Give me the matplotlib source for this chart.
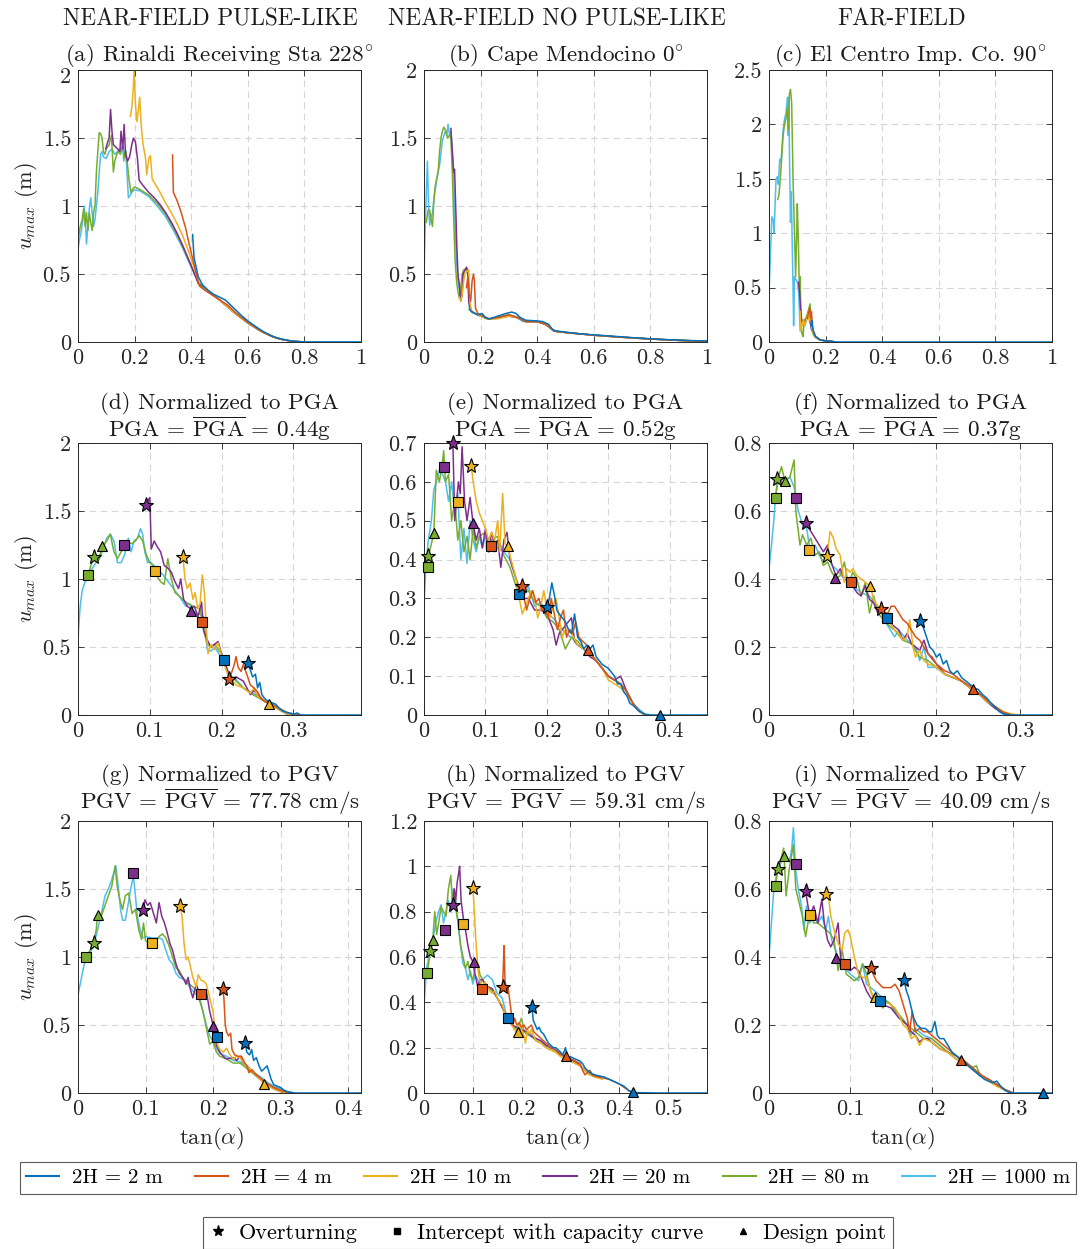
import matplotlib
matplotlib.use("Agg")
import matplotlib.pyplot as plt
import matplotlib.transforms as mtransforms
from matplotlib.lines import Line2D
from matplotlib.ticker import FuncFormatter

plt.rcParams["font.family"] = ["cmr10", "DejaVu Serif"]
plt.rcParams["mathtext.fontset"] = "cm"
plt.rcParams["axes.formatter.use_mathtext"] = True

COLORS = ["#0072BD", "#D95319", "#EDB120", "#7E2F8E", "#77AC30", "#4DBEEE"]
LABELS = ["2H = 2 m", "2H = 4 m", "2H = 10 m", "2H = 20 m", "2H = 80 m", "2H = 1000 m"]
HEADERS = ["NEAR-FIELD PULSE-LIKE", "NEAR-FIELD NO PULSE-LIKE", "FAR-FIELD"]

# ---- (a) Rinaldi, unscaled ----
a_2m = [(0.405, 0.79), (0.41, 0.62), (0.425, 0.48), (0.44, 0.42), (0.46, 0.38), (0.48, 0.35), (0.5, 0.33),
        (0.52, 0.31), (0.54, 0.27), (0.56, 0.23), (0.58, 0.19), (0.6, 0.155), (0.63, 0.11), (0.66, 0.07),
        (0.69, 0.04), (0.72, 0.02), (0.76, 0.006), (0.8, 0.0), (1.0, 0.0)]
a_4m = [(0.334, 1.375), (0.337, 1.1), (0.35, 1.04), (0.365, 0.95), (0.38, 0.84), (0.395, 0.7), (0.41, 0.57),
        (0.425, 0.44), (0.43, 0.41), (0.45, 0.38), (0.48, 0.34), (0.5, 0.31), (0.53, 0.27), (0.56, 0.21),
        (0.6, 0.145), (0.64, 0.09), (0.68, 0.045), (0.72, 0.018), (0.76, 0.004), (0.8, 0.0)]
a_10m = [(0.185, 1.66), (0.19, 1.72), (0.195, 1.85), (0.198, 2.0), (0.203, 1.75), (0.208, 1.62), (0.213, 1.7),
         (0.218, 1.8), (0.223, 1.6), (0.23, 1.45), (0.238, 1.36), (0.243, 1.23), (0.25, 1.35), (0.256, 1.37),
         (0.262, 1.2), (0.27, 1.17), (0.29, 1.1), (0.31, 1.02), (0.33, 0.95), (0.35, 0.87), (0.37, 0.78),
         (0.39, 0.67), (0.41, 0.55), (0.425, 0.45), (0.43, 0.41), (0.46, 0.37), (0.5, 0.31), (0.55, 0.22),
         (0.6, 0.14), (0.65, 0.075), (0.7, 0.03), (0.75, 0.007), (0.8, 0.0)]
a_20m = [(0.098, 1.42), (0.105, 1.47), (0.11, 1.5), (0.115, 1.71), (0.12, 1.55), (0.125, 1.45), (0.13, 1.44),
         (0.14, 1.42), (0.148, 1.4), (0.152, 1.55), (0.158, 1.42), (0.163, 1.6), (0.168, 1.38), (0.175, 1.33),
         (0.182, 1.36), (0.19, 1.45), (0.196, 1.5), (0.203, 1.47), (0.21, 1.35), (0.216, 1.19), (0.23, 1.15),
         (0.25, 1.1), (0.27, 1.06), (0.29, 1.01), (0.31, 0.95), (0.33, 0.88), (0.35, 0.8), (0.37, 0.71),
         (0.39, 0.61), (0.41, 0.51), (0.425, 0.43), (0.45, 0.38), (0.5, 0.31), (0.55, 0.22), (0.6, 0.14),
         (0.65, 0.075), (0.7, 0.03), (0.75, 0.007), (0.8, 0.0)]
a_80m = [(0.0, 0.75), (0.008, 0.85), (0.015, 0.9), (0.02, 0.98), (0.025, 0.85), (0.03, 0.95), (0.035, 0.82),
         (0.04, 0.95), (0.045, 0.88), (0.05, 0.82), (0.055, 0.95), (0.06, 1.0), (0.065, 1.25), (0.07, 1.4),
         (0.075, 1.54), (0.08, 1.53), (0.085, 1.5), (0.09, 1.4), (0.095, 1.38), (0.1, 1.42), (0.11, 1.45),
         (0.118, 1.52), (0.125, 1.25), (0.13, 1.33), (0.14, 1.4), (0.15, 1.38), (0.158, 1.45), (0.163, 1.35),
         (0.17, 1.4), (0.18, 1.2), (0.187, 1.1), (0.195, 1.13), (0.2, 1.14), (0.22, 1.12), (0.25, 1.08),
         (0.28, 1.02), (0.31, 0.94), (0.34, 0.83), (0.37, 0.7), (0.4, 0.56), (0.425, 0.44), (0.45, 0.39),
         (0.5, 0.31), (0.55, 0.22), (0.6, 0.14), (0.65, 0.075), (0.7, 0.03), (0.75, 0.007), (0.8, 0.0)]
a_1000m = [(0.0, 0.68), (0.005, 0.75), (0.012, 0.82), (0.018, 0.92), (0.022, 1.0), (0.026, 0.9), (0.03, 0.72),
           (0.035, 0.85), (0.04, 0.98), (0.045, 1.06), (0.05, 0.95), (0.055, 0.85), (0.06, 0.9), (0.065, 1.0),
           (0.07, 1.1), (0.075, 1.25), (0.08, 1.38), (0.085, 1.4), (0.09, 1.36), (0.1, 1.35), (0.11, 1.4),
           (0.12, 1.42), (0.13, 1.38), (0.14, 1.4), (0.15, 1.42), (0.158, 1.44), (0.162, 1.33), (0.167, 1.42),
           (0.172, 1.3), (0.178, 1.06), (0.185, 1.08), (0.19, 1.1), (0.2, 1.12), (0.22, 1.11), (0.25, 1.07),
           (0.28, 1.0), (0.31, 0.92), (0.34, 0.81), (0.37, 0.69), (0.4, 0.55), (0.425, 0.44), (0.45, 0.39),
           (0.5, 0.31), (0.55, 0.22), (0.6, 0.14), (0.65, 0.075), (0.7, 0.03), (0.75, 0.007), (0.8, 0.0),
           (1.0, 0.0)]

# ---- (b) Cape Mendocino, unscaled ----
b_2m = [(0.16, 0.24), (0.17, 0.22), (0.19, 0.2), (0.205, 0.21), (0.215, 0.18), (0.23, 0.17), (0.26, 0.19),
        (0.29, 0.21), (0.31, 0.22), (0.325, 0.21), (0.34, 0.18), (0.36, 0.16), (0.4, 0.155), (0.42, 0.15),
        (0.44, 0.13), (0.455, 0.09), (0.47, 0.08), (0.55, 0.06), (0.65, 0.045), (0.75, 0.03), (0.85, 0.018),
        (0.95, 0.01), (1.0, 0.008)]
b_4m = [(0.15, 0.4), (0.155, 0.48), (0.16, 0.35), (0.165, 0.3), (0.17, 0.45), (0.175, 0.5), (0.178, 0.45),
        (0.182, 0.25), (0.19, 0.21), (0.21, 0.19), (0.23, 0.17), (0.26, 0.18), (0.3, 0.2), (0.33, 0.18),
        (0.36, 0.15), (0.4, 0.15), (0.43, 0.13), (0.46, 0.08), (0.5, 0.07), (0.6, 0.05), (0.7, 0.035),
        (0.8, 0.022), (0.9, 0.012), (1.0, 0.005)]
b_10m = [(0.125, 0.33), (0.13, 0.3), (0.135, 0.35), (0.14, 0.45), (0.145, 0.5), (0.152, 0.52), (0.158, 0.53),
         (0.162, 0.3), (0.168, 0.22), (0.19, 0.2), (0.22, 0.17), (0.26, 0.17), (0.3, 0.19), (0.33, 0.18),
         (0.36, 0.15), (0.4, 0.15), (0.43, 0.13), (0.46, 0.08), (0.5, 0.07), (0.6, 0.05), (0.7, 0.035),
         (0.8, 0.022), (0.9, 0.012), (1.0, 0.005)]
b_20m = [(0.095, 1.57), (0.1, 1.4), (0.105, 1.25), (0.108, 1.27), (0.112, 1.0), (0.116, 0.7), (0.12, 0.5),
         (0.125, 0.42), (0.13, 0.3), (0.135, 0.35), (0.138, 0.5), (0.143, 0.52), (0.15, 0.55), (0.155, 0.52),
         (0.158, 0.3), (0.165, 0.23), (0.18, 0.21), (0.2, 0.19), (0.23, 0.17), (0.26, 0.18), (0.3, 0.19),
         (0.33, 0.18), (0.36, 0.15), (0.4, 0.15), (0.43, 0.13), (0.46, 0.08), (0.5, 0.07), (0.6, 0.05),
         (0.7, 0.035), (0.8, 0.022), (0.9, 0.012), (1.0, 0.005)]
b_80m = [(0.008, 0.88), (0.015, 0.97), (0.02, 0.97), (0.025, 0.9), (0.03, 0.85), (0.035, 1.05), (0.04, 1.15),
         (0.045, 1.2), (0.05, 1.25), (0.055, 1.4), (0.06, 1.5), (0.065, 1.55), (0.07, 1.58), (0.078, 1.55),
         (0.083, 1.5), (0.09, 1.52), (0.095, 1.5), (0.1, 1.25), (0.105, 0.9), (0.11, 0.6), (0.115, 0.45),
         (0.12, 0.37), (0.125, 0.32), (0.13, 0.4), (0.135, 0.5), (0.14, 0.53), (0.15, 0.54), (0.155, 0.5),
         (0.16, 0.28), (0.17, 0.22), (0.2, 0.19), (0.23, 0.17), (0.26, 0.18), (0.3, 0.2), (0.33, 0.18),
         (0.36, 0.15), (0.4, 0.15), (0.43, 0.13), (0.46, 0.08), (0.5, 0.07), (0.6, 0.05), (0.7, 0.035),
         (0.8, 0.022), (0.9, 0.012), (1.0, 0.005)]
b_1000m = [(0.0, 0.5), (0.005, 0.9), (0.012, 1.33), (0.016, 1.0), (0.02, 0.86), (0.025, 0.92), (0.03, 0.95),
           (0.035, 1.05), (0.045, 1.2), (0.055, 1.3), (0.065, 1.48), (0.075, 1.55), (0.08, 1.52), (0.085, 1.6),
           (0.09, 1.52), (0.095, 1.55), (0.1, 1.4), (0.105, 1.2), (0.11, 0.85), (0.115, 0.6), (0.12, 0.45),
           (0.13, 0.33), (0.135, 0.45), (0.14, 0.52), (0.15, 0.54), (0.155, 0.5), (0.16, 0.25), (0.17, 0.22),
           (0.19, 0.2), (0.2, 0.19), (0.21, 0.2), (0.22, 0.17), (0.25, 0.17), (0.28, 0.19), (0.3, 0.2),
           (0.32, 0.19), (0.35, 0.15), (0.4, 0.15), (0.43, 0.13), (0.45, 0.1), (0.46, 0.08), (0.5, 0.07),
           (0.6, 0.05), (0.7, 0.035), (0.8, 0.022), (0.9, 0.012), (1.0, 0.005)]

# ---- (c) El Centro, unscaled ----
c_2m = [(0.148, 0.15), (0.152, 0.2), (0.155, 0.12), (0.16, 0.08), (0.165, 0.05), (0.17, 0.04), (0.18, 0.02),
        (0.2, 0.01), (0.22, 0.01), (0.235, 0.0), (1.0, 0.0)]
c_4m = [(0.135, 0.22), (0.14, 0.27), (0.144, 0.31), (0.147, 0.22), (0.15, 0.28), (0.153, 0.15), (0.158, 0.08),
        (0.165, 0.05), (0.18, 0.02), (0.2, 0.01), (0.23, 0.0)]
c_10m = [(0.11, 0.28), (0.113, 0.1), (0.118, 0.18), (0.122, 0.2), (0.128, 0.15), (0.133, 0.22), (0.138, 0.25),
         (0.142, 0.2), (0.147, 0.28), (0.15, 0.15), (0.155, 0.08), (0.165, 0.04), (0.18, 0.02), (0.2, 0.01),
         (0.23, 0.0)]
c_20m = [(0.105, 0.55), (0.108, 0.45), (0.112, 0.3), (0.116, 0.18), (0.12, 0.2), (0.125, 0.18), (0.13, 0.2),
         (0.135, 0.22), (0.14, 0.25), (0.145, 0.2), (0.15, 0.12), (0.16, 0.06), (0.18, 0.02), (0.2, 0.01),
         (0.23, 0.0)]
c_80m = [(0.031, 1.31), (0.035, 1.35), (0.04, 1.5), (0.045, 1.7), (0.05, 1.9), (0.055, 2.0), (0.06, 2.05),
         (0.065, 2.15), (0.068, 1.95), (0.072, 2.28), (0.076, 2.32), (0.08, 2.2), (0.085, 1.5), (0.09, 1.0),
         (0.094, 0.6), (0.098, 1.0), (0.1, 1.27), (0.104, 0.9), (0.107, 0.5), (0.11, 0.6), (0.113, 0.2),
         (0.116, 0.08), (0.12, 0.05), (0.125, 0.2), (0.13, 0.22), (0.135, 0.25), (0.14, 0.3), (0.145, 0.35),
         (0.148, 0.2), (0.155, 0.1), (0.165, 0.04), (0.18, 0.02), (0.2, 0.01), (0.23, 0.0)]
c_1000m = [(0.0, 0.45), (0.005, 0.8), (0.01, 1.15), (0.015, 1.12), (0.018, 1.0), (0.022, 1.3), (0.025, 1.5),
           (0.03, 1.52), (0.033, 1.45), (0.038, 1.68), (0.042, 1.65), (0.05, 1.95), (0.055, 2.05), (0.06, 2.1),
           (0.065, 2.25), (0.068, 1.9), (0.07, 2.25), (0.073, 1.6), (0.076, 1.1), (0.079, 1.38), (0.082, 0.9),
           (0.085, 0.5), (0.087, 0.15), (0.09, 0.6), (0.1, 0.55), (0.105, 0.45), (0.11, 0.1), (0.12, 0.2),
           (0.13, 0.18), (0.14, 0.25), (0.15, 0.12), (0.16, 0.05), (0.18, 0.02), (0.2, 0.01), (0.23, 0.0)]

# ---- (d) normalized to PGA, Rinaldi ----
d_2m = [(0.236, 0.38), (0.24, 0.33), (0.243, 0.28), (0.247, 0.3), (0.25, 0.2), (0.253, 0.24), (0.256, 0.15),
        (0.26, 0.12), (0.265, 0.1), (0.27, 0.09), (0.275, 0.08), (0.28, 0.05), (0.285, 0.03), (0.29, 0.02),
        (0.3, 0.005), (0.305, 0.015), (0.31, 0.0), (0.394, 0.0)]
d_4m = [(0.21, 0.265), (0.213, 0.3), (0.217, 0.36), (0.22, 0.43), (0.223, 0.35), (0.227, 0.32), (0.23, 0.37),
        (0.235, 0.3), (0.24, 0.22), (0.245, 0.2), (0.25, 0.17), (0.255, 0.12), (0.26, 0.1), (0.27, 0.08),
        (0.28, 0.05), (0.29, 0.02), (0.3, 0.005), (0.31, 0.0)]
d_10m = [(0.146, 1.165), (0.149, 1.0), (0.152, 0.93), (0.156, 0.97), (0.16, 0.85), (0.163, 0.9), (0.167, 0.78),
         (0.17, 0.82), (0.173, 1.03), (0.176, 0.9), (0.178, 0.7), (0.181, 0.45), (0.185, 0.52), (0.19, 0.48),
         (0.195, 0.53), (0.2, 0.44), (0.205, 0.35), (0.21, 0.28), (0.22, 0.22), (0.23, 0.2), (0.24, 0.16),
         (0.245, 0.2), (0.25, 0.14), (0.26, 0.1), (0.267, 0.08), (0.28, 0.04), (0.29, 0.01), (0.3, 0.0)]
d_20m = [(0.095, 1.545), (0.098, 1.58), (0.1, 1.6), (0.102, 1.22), (0.106, 1.28), (0.11, 1.24), (0.115, 1.2),
         (0.12, 1.1), (0.125, 1.08), (0.13, 1.05), (0.135, 0.98), (0.14, 0.93), (0.143, 1.0), (0.147, 0.85),
         (0.152, 0.8), (0.157, 0.78), (0.162, 0.8), (0.167, 0.72), (0.172, 0.83), (0.175, 0.62), (0.18, 0.55),
         (0.185, 0.5), (0.19, 0.52), (0.195, 0.54), (0.2, 0.45), (0.205, 0.38), (0.21, 0.3), (0.215, 0.27),
         (0.22, 0.28), (0.23, 0.25), (0.24, 0.15), (0.245, 0.18), (0.25, 0.15), (0.26, 0.1), (0.27, 0.07),
         (0.28, 0.04), (0.29, 0.01), (0.3, 0.0)]
d_80m = [(0.014, 1.03), (0.018, 1.1), (0.022, 1.16), (0.028, 1.13), (0.034, 1.24), (0.04, 1.28), (0.045, 1.33),
         (0.05, 1.2), (0.055, 1.15), (0.06, 1.2), (0.065, 1.24), (0.07, 1.27), (0.075, 1.26), (0.08, 1.28),
         (0.085, 1.32), (0.09, 1.28), (0.095, 1.18), (0.1, 1.12), (0.105, 1.1), (0.11, 1.02), (0.115, 0.98),
         (0.12, 0.96), (0.125, 1.15), (0.13, 1.0), (0.135, 0.9), (0.14, 0.88), (0.15, 0.83), (0.16, 0.8),
         (0.17, 0.78), (0.175, 0.62), (0.18, 0.52), (0.185, 0.5), (0.19, 0.52), (0.2, 0.45), (0.21, 0.3),
         (0.22, 0.25), (0.23, 0.2), (0.24, 0.16), (0.25, 0.13), (0.26, 0.1), (0.27, 0.08), (0.28, 0.04),
         (0.29, 0.01), (0.3, 0.0)]
d_1000m = [(0.0, 0.565), (0.003, 0.8), (0.006, 0.92), (0.01, 0.98), (0.015, 1.02), (0.02, 1.08), (0.025, 1.12),
           (0.03, 1.15), (0.035, 1.22), (0.04, 1.3), (0.045, 1.33), (0.05, 1.28), (0.055, 1.12), (0.06, 1.12),
           (0.065, 1.18), (0.07, 1.3), (0.074, 1.2), (0.078, 1.28), (0.083, 1.3), (0.087, 1.37), (0.09, 1.33),
           (0.093, 1.2), (0.097, 1.12), (0.1, 1.13), (0.105, 1.1), (0.11, 1.08), (0.12, 1.02), (0.13, 0.95),
           (0.14, 0.88), (0.15, 0.8), (0.155, 0.82), (0.16, 0.76), (0.17, 0.74), (0.175, 0.72), (0.18, 0.48),
           (0.185, 0.47), (0.19, 0.5), (0.2, 0.42), (0.21, 0.3), (0.22, 0.26), (0.23, 0.2), (0.24, 0.17),
           (0.25, 0.14), (0.26, 0.1), (0.27, 0.08), (0.28, 0.05), (0.29, 0.02), (0.3, 0.01), (0.31, 0.0)]

# ---- (e) normalized to PGA, Cape Mendocino ----
e_2m = [(0.2, 0.279), (0.204, 0.3), (0.208, 0.34), (0.212, 0.31), (0.216, 0.27), (0.22, 0.26), (0.225, 0.25),
        (0.23, 0.24), (0.235, 0.22), (0.24, 0.21), (0.245, 0.26), (0.25, 0.2), (0.255, 0.19), (0.26, 0.17),
        (0.265, 0.18), (0.27, 0.17), (0.275, 0.18), (0.28, 0.15), (0.285, 0.14), (0.29, 0.13), (0.3, 0.12),
        (0.305, 0.11), (0.31, 0.1), (0.315, 0.08), (0.32, 0.08), (0.325, 0.06), (0.33, 0.05), (0.335, 0.03),
        (0.34, 0.025), (0.35, 0.01), (0.36, 0.002), (0.37, 0.0), (0.46, 0.0)]
e_4m = [(0.159, 0.332), (0.163, 0.3), (0.167, 0.27), (0.172, 0.3), (0.177, 0.32), (0.182, 0.29), (0.187, 0.3),
        (0.192, 0.27), (0.197, 0.28), (0.202, 0.25), (0.207, 0.3), (0.212, 0.26), (0.217, 0.22), (0.222, 0.25),
        (0.227, 0.27), (0.232, 0.2), (0.237, 0.22), (0.242, 0.21), (0.247, 0.24), (0.252, 0.2), (0.258, 0.19),
        (0.265, 0.18), (0.27, 0.16), (0.28, 0.14), (0.29, 0.12), (0.3, 0.1), (0.31, 0.09), (0.32, 0.08),
        (0.33, 0.06), (0.34, 0.03), (0.35, 0.01), (0.36, 0.0)]
e_10m = [(0.077, 0.64), (0.08, 0.6), (0.085, 0.55), (0.09, 0.52), (0.095, 0.5), (0.1, 0.48), (0.105, 0.45),
         (0.11, 0.47), (0.115, 0.45), (0.12, 0.5), (0.123, 0.42), (0.128, 0.57), (0.132, 0.44), (0.136, 0.436),
         (0.14, 0.41), (0.145, 0.38), (0.15, 0.35), (0.155, 0.3), (0.16, 0.26), (0.165, 0.28), (0.17, 0.3),
         (0.175, 0.32), (0.18, 0.3), (0.185, 0.25), (0.19, 0.28), (0.195, 0.32), (0.2, 0.27), (0.205, 0.25),
         (0.21, 0.28), (0.215, 0.3), (0.22, 0.25), (0.225, 0.2), (0.23, 0.22), (0.24, 0.21), (0.25, 0.18),
         (0.26, 0.17), (0.27, 0.16), (0.28, 0.14), (0.29, 0.12), (0.3, 0.09), (0.31, 0.08), (0.32, 0.07),
         (0.33, 0.05), (0.34, 0.03), (0.35, 0.01), (0.36, 0.0)]
e_20m = [(0.047, 0.7), (0.05, 0.5), (0.053, 0.55), (0.056, 0.6), (0.059, 0.57), (0.062, 0.69), (0.066, 0.55),
         (0.07, 0.5), (0.075, 0.56), (0.08, 0.49), (0.085, 0.45), (0.09, 0.48), (0.095, 0.43), (0.1, 0.48),
         (0.105, 0.42), (0.11, 0.47), (0.115, 0.44), (0.12, 0.45), (0.125, 0.38), (0.13, 0.45), (0.135, 0.47),
         (0.14, 0.4), (0.15, 0.35), (0.16, 0.3), (0.17, 0.3), (0.18, 0.27), (0.19, 0.27), (0.2, 0.26),
         (0.21, 0.22), (0.215, 0.18), (0.22, 0.21), (0.23, 0.23), (0.24, 0.25), (0.245, 0.19), (0.25, 0.18),
         (0.26, 0.17), (0.27, 0.15), (0.28, 0.14), (0.29, 0.12), (0.3, 0.1), (0.31, 0.09), (0.32, 0.1),
         (0.33, 0.06), (0.34, 0.03), (0.35, 0.01), (0.36, 0.0)]
e_80m = [(0.006, 0.381), (0.007, 0.409), (0.012, 0.44), (0.016, 0.469), (0.02, 0.63), (0.025, 0.6), (0.03, 0.65),
         (0.032, 0.68), (0.035, 0.6), (0.04, 0.62), (0.045, 0.5), (0.05, 0.55), (0.055, 0.45), (0.06, 0.5),
         (0.065, 0.42), (0.07, 0.46), (0.075, 0.4), (0.08, 0.48), (0.085, 0.43), (0.09, 0.46), (0.1, 0.47),
         (0.105, 0.43), (0.11, 0.45), (0.12, 0.46), (0.13, 0.41), (0.14, 0.38), (0.15, 0.33), (0.16, 0.31),
         (0.17, 0.32), (0.18, 0.29), (0.19, 0.28), (0.2, 0.25), (0.21, 0.24), (0.22, 0.22), (0.23, 0.17),
         (0.24, 0.2), (0.25, 0.19), (0.26, 0.17), (0.27, 0.16), (0.28, 0.14), (0.29, 0.12), (0.3, 0.1),
         (0.31, 0.09), (0.32, 0.08), (0.33, 0.06), (0.34, 0.03), (0.35, 0.01), (0.36, 0.0)]
e_1000m = [(0.0, 0.28), (0.003, 0.38), (0.007, 0.45), (0.012, 0.5), (0.016, 0.58), (0.02, 0.6), (0.025, 0.63),
           (0.03, 0.62), (0.035, 0.6), (0.04, 0.55), (0.045, 0.6), (0.05, 0.52), (0.055, 0.57), (0.06, 0.4),
           (0.065, 0.48), (0.07, 0.39), (0.075, 0.5), (0.08, 0.45), (0.085, 0.42), (0.09, 0.46), (0.095, 0.43),
           (0.1, 0.46), (0.105, 0.42), (0.11, 0.44), (0.115, 0.42), (0.12, 0.43), (0.13, 0.42), (0.14, 0.4),
           (0.15, 0.35), (0.16, 0.3), (0.17, 0.33), (0.18, 0.28), (0.19, 0.29), (0.2, 0.26), (0.21, 0.25),
           (0.22, 0.23), (0.23, 0.21), (0.24, 0.2), (0.25, 0.18), (0.26, 0.17), (0.27, 0.16), (0.28, 0.14),
           (0.29, 0.12), (0.3, 0.1), (0.31, 0.09), (0.32, 0.08), (0.33, 0.06), (0.34, 0.03), (0.35, 0.015),
           (0.36, 0.0)]

# ---- (f) normalized to PGA, El Centro ----
f_2m = [(0.18, 0.277), (0.184, 0.26), (0.188, 0.23), (0.192, 0.2), (0.196, 0.19), (0.2, 0.17), (0.204, 0.18),
        (0.208, 0.15), (0.212, 0.16), (0.216, 0.13), (0.22, 0.12), (0.225, 0.13), (0.23, 0.11), (0.235, 0.1),
        (0.24, 0.09), (0.245, 0.08), (0.25, 0.075), (0.255, 0.06), (0.26, 0.05), (0.265, 0.035), (0.27, 0.025),
        (0.275, 0.01), (0.28, 0.003), (0.29, 0.0), (0.338, 0.0)]
f_4m = [(0.134, 0.311), (0.138, 0.3), (0.142, 0.3), (0.146, 0.32), (0.15, 0.32), (0.155, 0.3), (0.16, 0.28),
        (0.165, 0.27), (0.17, 0.25), (0.175, 0.23), (0.18, 0.22), (0.185, 0.2), (0.19, 0.18), (0.195, 0.17),
        (0.2, 0.15), (0.21, 0.13), (0.22, 0.12), (0.23, 0.1), (0.24, 0.085), (0.25, 0.065), (0.26, 0.045),
        (0.27, 0.025), (0.28, 0.008), (0.29, 0.0)]
f_10m = [(0.069, 0.469), (0.071, 0.5), (0.073, 0.54), (0.077, 0.52), (0.08, 0.49), (0.085, 0.47), (0.088, 0.42),
         (0.09, 0.39), (0.093, 0.43), (0.097, 0.42), (0.1, 0.43), (0.105, 0.41), (0.11, 0.4), (0.115, 0.39),
         (0.121, 0.379), (0.125, 0.34), (0.13, 0.32), (0.135, 0.3), (0.14, 0.3), (0.145, 0.27), (0.15, 0.25),
         (0.155, 0.24), (0.16, 0.22), (0.165, 0.23), (0.168, 0.28), (0.172, 0.2), (0.175, 0.17), (0.18, 0.19),
         (0.185, 0.16), (0.19, 0.15), (0.2, 0.14), (0.21, 0.12), (0.22, 0.11), (0.23, 0.1), (0.24, 0.08),
         (0.25, 0.065), (0.26, 0.04), (0.27, 0.025), (0.28, 0.01), (0.29, 0.003), (0.3, 0.0)]
f_20m = [(0.044, 0.566), (0.05, 0.54), (0.055, 0.52), (0.06, 0.5), (0.065, 0.48), (0.07, 0.5), (0.073, 0.46),
         (0.077, 0.43), (0.08, 0.41), (0.085, 0.43), (0.09, 0.4), (0.095, 0.39), (0.1, 0.38), (0.105, 0.36),
         (0.11, 0.35), (0.115, 0.38), (0.12, 0.34), (0.125, 0.33), (0.13, 0.3), (0.135, 0.3), (0.14, 0.28),
         (0.15, 0.26), (0.155, 0.25), (0.16, 0.22), (0.165, 0.24), (0.17, 0.21), (0.175, 0.2), (0.18, 0.19),
         (0.185, 0.22), (0.19, 0.18), (0.2, 0.15), (0.21, 0.12), (0.22, 0.11), (0.23, 0.1), (0.24, 0.08),
         (0.25, 0.065), (0.26, 0.04), (0.27, 0.02), (0.28, 0.005), (0.29, 0.0)]
f_80m = [(0.008, 0.639), (0.01, 0.69), (0.015, 0.73), (0.019, 0.688), (0.025, 0.7), (0.03, 0.75), (0.032, 0.6),
         (0.037, 0.5), (0.04, 0.53), (0.045, 0.5), (0.05, 0.52), (0.055, 0.47), (0.06, 0.48), (0.065, 0.44),
         (0.07, 0.45), (0.075, 0.42), (0.08, 0.4), (0.085, 0.41), (0.09, 0.45), (0.095, 0.38), (0.1, 0.42),
         (0.105, 0.4), (0.11, 0.35), (0.115, 0.39), (0.12, 0.3), (0.125, 0.35), (0.13, 0.3), (0.14, 0.27),
         (0.15, 0.25), (0.16, 0.22), (0.17, 0.21), (0.18, 0.17), (0.19, 0.16), (0.2, 0.14), (0.21, 0.12),
         (0.22, 0.11), (0.23, 0.1), (0.24, 0.08), (0.25, 0.065), (0.26, 0.04), (0.27, 0.02), (0.28, 0.005),
         (0.29, 0.0)]
f_1000m = [(0.0, 0.43), (0.003, 0.5), (0.006, 0.58), (0.008, 0.65), (0.012, 0.7), (0.016, 0.68), (0.02, 0.69),
           (0.025, 0.7), (0.03, 0.67), (0.035, 0.6), (0.04, 0.56), (0.045, 0.55), (0.048, 0.5), (0.05, 0.47),
           (0.055, 0.5), (0.06, 0.47), (0.065, 0.45), (0.07, 0.48), (0.075, 0.44), (0.08, 0.43), (0.09, 0.4),
           (0.1, 0.38), (0.11, 0.36), (0.12, 0.35), (0.13, 0.32), (0.14, 0.27), (0.145, 0.25), (0.15, 0.23),
           (0.155, 0.25), (0.165, 0.22), (0.175, 0.2), (0.18, 0.16), (0.185, 0.2), (0.19, 0.14), (0.2, 0.14),
           (0.21, 0.12), (0.22, 0.11), (0.23, 0.1), (0.24, 0.08), (0.25, 0.065), (0.26, 0.04), (0.27, 0.02),
           (0.28, 0.005), (0.29, 0.0)]

# ---- (g) normalized to PGV, Rinaldi ----
g_2m = [(0.2475, 0.371), (0.25, 0.3), (0.254, 0.28), (0.257, 0.32), (0.26, 0.24), (0.264, 0.26), (0.268, 0.2),
        (0.272, 0.16), (0.276, 0.18), (0.28, 0.2), (0.283, 0.15), (0.286, 0.1), (0.29, 0.06), (0.295, 0.05),
        (0.3, 0.04), (0.305, 0.02), (0.31, 0.01), (0.32, 0.0), (0.419, 0.0)]
g_4m = [(0.214, 0.767), (0.216, 0.7), (0.218, 0.5), (0.22, 0.45), (0.223, 0.42), (0.226, 0.44), (0.228, 0.32),
        (0.232, 0.28), (0.237, 0.27), (0.242, 0.27), (0.247, 0.22), (0.25, 0.2), (0.253, 0.15), (0.258, 0.17),
        (0.263, 0.14), (0.27, 0.11), (0.275, 0.09), (0.28, 0.07), (0.29, 0.04), (0.3, 0.02), (0.31, 0.005),
        (0.32, 0.0)]
g_10m = [(0.151, 1.372), (0.154, 1.3), (0.157, 1.1), (0.16, 0.98), (0.163, 1.0), (0.167, 0.92), (0.17, 0.85),
         (0.175, 0.78), (0.178, 0.87), (0.182, 0.83), (0.187, 0.82), (0.19, 0.8), (0.195, 0.7), (0.2, 0.6),
         (0.203, 0.45), (0.207, 0.35), (0.21, 0.32), (0.215, 0.3), (0.22, 0.33), (0.225, 0.28), (0.23, 0.25),
         (0.235, 0.27), (0.24, 0.26), (0.245, 0.22), (0.25, 0.2), (0.26, 0.15), (0.27, 0.1), (0.275, 0.07),
         (0.28, 0.06), (0.29, 0.03), (0.3, 0.01), (0.31, 0.0)]
g_20m = [(0.0965, 1.343), (0.099, 1.42), (0.103, 1.38), (0.107, 1.4), (0.11, 1.35), (0.113, 1.3), (0.116, 1.25),
         (0.12, 1.4), (0.124, 1.3), (0.128, 1.25), (0.132, 1.18), (0.136, 1.1), (0.14, 1.05), (0.145, 0.95),
         (0.15, 0.88), (0.155, 0.85), (0.16, 0.8), (0.163, 0.85), (0.167, 0.75), (0.17, 0.7), (0.175, 0.8),
         (0.18, 0.73), (0.185, 0.72), (0.19, 0.75), (0.195, 0.6), (0.2, 0.5), (0.205, 0.35), (0.21, 0.3),
         (0.215, 0.27), (0.22, 0.25), (0.23, 0.26), (0.235, 0.24), (0.24, 0.27), (0.245, 0.22), (0.25, 0.2),
         (0.26, 0.15), (0.27, 0.1), (0.28, 0.06), (0.29, 0.03), (0.3, 0.01), (0.31, 0.0)]
g_80m = [(0.012, 1.0), (0.018, 1.05), (0.023, 1.1), (0.027, 1.2), (0.029, 1.31), (0.033, 1.28), (0.04, 1.38),
         (0.045, 1.45), (0.05, 1.52), (0.055, 1.67), (0.058, 1.52), (0.062, 1.42), (0.066, 1.35), (0.07, 1.45),
         (0.075, 1.47), (0.08, 1.32), (0.085, 1.35), (0.09, 1.2), (0.094, 1.13), (0.097, 1.25), (0.1, 1.12),
         (0.105, 1.1), (0.11, 1.13), (0.115, 1.12), (0.12, 1.15), (0.125, 1.17), (0.13, 1.14), (0.135, 1.08),
         (0.14, 1.0), (0.145, 0.92), (0.15, 0.9), (0.155, 0.85), (0.16, 0.82), (0.165, 0.8), (0.17, 0.78),
         (0.175, 0.75), (0.18, 0.68), (0.185, 0.6), (0.19, 0.48), (0.195, 0.36), (0.2, 0.38), (0.205, 0.3),
         (0.21, 0.27), (0.22, 0.25), (0.23, 0.22), (0.24, 0.22), (0.25, 0.18), (0.26, 0.14), (0.27, 0.1),
         (0.28, 0.06), (0.29, 0.04), (0.3, 0.02), (0.31, 0.005), (0.32, 0.0)]
g_1000m = [(0.0, 0.72), (0.004, 0.82), (0.008, 0.92), (0.012, 1.0), (0.016, 1.02), (0.02, 1.05), (0.025, 1.12),
           (0.03, 1.22), (0.035, 1.33), (0.04, 1.45), (0.045, 1.5), (0.05, 1.57), (0.053, 1.62), (0.056, 1.67),
           (0.06, 1.5), (0.063, 1.35), (0.066, 1.27), (0.07, 1.27), (0.074, 1.38), (0.078, 1.5), (0.082, 1.6),
           (0.085, 1.45), (0.088, 1.3), (0.092, 1.2), (0.096, 1.14), (0.1, 1.15), (0.11, 1.14), (0.12, 1.14),
           (0.125, 1.13), (0.13, 1.05), (0.135, 0.98), (0.14, 0.95), (0.145, 0.88), (0.15, 0.85), (0.16, 0.83),
           (0.165, 0.78), (0.17, 0.75), (0.18, 0.7), (0.185, 0.6), (0.19, 0.5), (0.195, 0.42), (0.2, 0.38),
           (0.205, 0.33), (0.21, 0.29), (0.22, 0.27), (0.23, 0.24), (0.24, 0.23), (0.25, 0.2), (0.26, 0.15),
           (0.27, 0.12), (0.28, 0.08), (0.29, 0.05), (0.3, 0.03), (0.31, 0.01), (0.32, 0.0)]

# ---- (h) normalized to PGV, Cape Mendocino ----
h_2m = [(0.221, 0.38), (0.224, 0.32), (0.228, 0.3), (0.232, 0.28), (0.236, 0.29), (0.24, 0.27), (0.245, 0.26),
        (0.25, 0.24), (0.255, 0.22), (0.26, 0.21), (0.265, 0.2), (0.27, 0.2), (0.275, 0.19), (0.28, 0.18),
        (0.285, 0.17), (0.29, 0.2), (0.295, 0.15), (0.3, 0.16), (0.31, 0.15), (0.32, 0.14), (0.325, 0.13),
        (0.33, 0.11), (0.335, 0.1), (0.34, 0.09), (0.35, 0.08), (0.36, 0.075), (0.37, 0.07), (0.38, 0.06),
        (0.39, 0.05), (0.4, 0.04), (0.41, 0.03), (0.42, 0.01), (0.43, 0.002), (0.48, 0.0), (0.58, 0.0)]
h_4m = [(0.161, 0.468), (0.163, 0.58), (0.164, 0.65), (0.166, 0.5), (0.169, 0.45), (0.172, 0.47), (0.175, 0.42),
        (0.178, 0.37), (0.182, 0.3), (0.186, 0.33), (0.19, 0.3), (0.195, 0.31), (0.2, 0.29), (0.205, 0.3),
        (0.21, 0.28), (0.215, 0.29), (0.22, 0.3), (0.225, 0.27), (0.23, 0.26), (0.24, 0.24), (0.25, 0.22),
        (0.26, 0.2), (0.27, 0.19), (0.28, 0.17), (0.29, 0.16), (0.3, 0.15), (0.31, 0.14), (0.32, 0.13),
        (0.325, 0.1), (0.33, 0.08), (0.335, 0.09), (0.34, 0.1), (0.345, 0.08), (0.35, 0.075), (0.36, 0.07),
        (0.37, 0.065), (0.38, 0.06), (0.39, 0.05), (0.4, 0.04), (0.41, 0.025), (0.42, 0.01), (0.43, 0.0)]
h_10m = [(0.1, 0.903), (0.102, 0.85), (0.105, 0.72), (0.108, 0.62), (0.112, 0.52), (0.116, 0.48), (0.12, 0.47),
         (0.125, 0.49), (0.13, 0.47), (0.135, 0.45), (0.14, 0.44), (0.145, 0.45), (0.15, 0.42), (0.155, 0.4),
         (0.16, 0.39), (0.165, 0.36), (0.17, 0.33), (0.175, 0.35), (0.18, 0.3), (0.185, 0.28), (0.19, 0.27),
         (0.195, 0.3), (0.2, 0.28), (0.205, 0.25), (0.208, 0.22), (0.212, 0.28), (0.216, 0.26), (0.22, 0.28),
         (0.225, 0.25), (0.23, 0.23), (0.24, 0.22), (0.25, 0.2), (0.26, 0.19), (0.27, 0.18), (0.28, 0.16),
         (0.29, 0.15), (0.3, 0.14), (0.31, 0.13), (0.32, 0.12), (0.33, 0.1), (0.34, 0.08), (0.35, 0.07),
         (0.36, 0.065), (0.365, 0.06)]
h_20m = [(0.059, 0.828), (0.062, 0.9), (0.065, 0.85), (0.068, 0.93), (0.071, 0.97), (0.073, 1.0), (0.076, 0.85),
         (0.08, 0.78), (0.085, 0.72), (0.09, 0.65), (0.095, 0.6), (0.1, 0.58), (0.105, 0.52), (0.11, 0.47),
         (0.115, 0.5), (0.12, 0.5), (0.125, 0.48), (0.13, 0.47), (0.14, 0.46), (0.15, 0.42), (0.16, 0.38),
         (0.17, 0.34), (0.18, 0.3), (0.19, 0.29), (0.2, 0.28), (0.21, 0.27), (0.22, 0.25), (0.23, 0.24),
         (0.24, 0.23), (0.25, 0.21), (0.26, 0.2), (0.27, 0.19), (0.28, 0.17), (0.29, 0.16), (0.3, 0.15),
         (0.31, 0.14), (0.32, 0.12), (0.33, 0.1), (0.34, 0.09), (0.35, 0.075), (0.36, 0.07)]
h_80m = [(0.007, 0.53), (0.013, 0.627), (0.018, 0.674), (0.022, 0.8), (0.026, 0.7), (0.03, 0.75), (0.035, 0.82),
         (0.04, 0.8), (0.045, 0.78), (0.05, 0.9), (0.055, 0.96), (0.058, 0.85), (0.062, 0.9), (0.066, 0.8),
         (0.07, 0.75), (0.075, 0.65), (0.08, 0.6), (0.085, 0.55), (0.09, 0.58), (0.095, 0.52), (0.1, 0.5),
         (0.105, 0.55), (0.11, 0.57), (0.115, 0.52), (0.12, 0.5), (0.13, 0.47), (0.14, 0.45), (0.15, 0.42),
         (0.16, 0.38), (0.17, 0.33), (0.18, 0.3), (0.19, 0.28), (0.2, 0.33), (0.205, 0.27), (0.21, 0.26),
         (0.22, 0.25), (0.23, 0.23), (0.24, 0.22), (0.25, 0.2), (0.26, 0.19), (0.27, 0.18), (0.28, 0.17),
         (0.29, 0.16), (0.3, 0.15), (0.31, 0.14), (0.32, 0.12), (0.33, 0.1), (0.34, 0.08), (0.35, 0.075),
         (0.36, 0.07)]
h_1000m = [(0.0, 0.38), (0.003, 0.48), (0.006, 0.56), (0.01, 0.6), (0.015, 0.65), (0.02, 0.7), (0.025, 0.76),
           (0.03, 0.8), (0.035, 0.83), (0.04, 0.75), (0.045, 0.8), (0.05, 0.85), (0.055, 0.8), (0.06, 0.9),
           (0.065, 0.85), (0.07, 0.75), (0.075, 0.65), (0.08, 0.57), (0.085, 0.55), (0.09, 0.5), (0.095, 0.54),
           (0.1, 0.48), (0.105, 0.52), (0.11, 0.5), (0.115, 0.48), (0.12, 0.5), (0.13, 0.52), (0.14, 0.5),
           (0.15, 0.44), (0.16, 0.42), (0.165, 0.38), (0.17, 0.33), (0.18, 0.3), (0.19, 0.29), (0.2, 0.28),
           (0.21, 0.27), (0.22, 0.26), (0.23, 0.24), (0.24, 0.23), (0.25, 0.21), (0.26, 0.2), (0.27, 0.19),
           (0.28, 0.17), (0.29, 0.16), (0.3, 0.15), (0.31, 0.13), (0.32, 0.12), (0.33, 0.1), (0.34, 0.08),
           (0.35, 0.075), (0.36, 0.07)]

# ---- (i) normalized to PGV, El Centro ----
i_2m = [(0.166, 0.333), (0.169, 0.3), (0.172, 0.28), (0.175, 0.25), (0.178, 0.22), (0.182, 0.2), (0.187, 0.19),
        (0.192, 0.19), (0.197, 0.18), (0.2, 0.18), (0.204, 0.21), (0.207, 0.17), (0.21, 0.16), (0.215, 0.16),
        (0.22, 0.14), (0.225, 0.12), (0.23, 0.11), (0.235, 0.1), (0.24, 0.095), (0.245, 0.08), (0.25, 0.07),
        (0.255, 0.06), (0.26, 0.05), (0.265, 0.04), (0.27, 0.035), (0.275, 0.03), (0.28, 0.035), (0.285, 0.02),
        (0.29, 0.008), (0.295, 0.002), (0.3, 0.0), (0.348, 0.0)]
i_4m = [(0.1255, 0.369), (0.128, 0.35), (0.132, 0.33), (0.136, 0.32), (0.14, 0.31), (0.145, 0.31), (0.15, 0.31),
        (0.155, 0.32), (0.16, 0.3), (0.165, 0.26), (0.17, 0.22), (0.173, 0.18), (0.176, 0.24), (0.18, 0.18),
        (0.185, 0.19), (0.19, 0.18), (0.195, 0.18), (0.2, 0.17), (0.205, 0.16), (0.21, 0.15), (0.22, 0.13),
        (0.23, 0.11), (0.24, 0.095), (0.25, 0.075), (0.26, 0.055), (0.27, 0.04), (0.28, 0.025), (0.29, 0.01),
        (0.3, 0.0)]
i_10m = [(0.07, 0.586), (0.073, 0.58), (0.076, 0.52), (0.08, 0.48), (0.085, 0.44), (0.09, 0.42), (0.093, 0.47),
         (0.097, 0.48), (0.1, 0.46), (0.105, 0.4), (0.11, 0.35), (0.115, 0.34), (0.12, 0.34), (0.125, 0.3),
         (0.13, 0.28), (0.135, 0.28), (0.14, 0.27), (0.15, 0.26), (0.155, 0.25), (0.16, 0.23), (0.165, 0.2),
         (0.17, 0.19), (0.175, 0.16), (0.18, 0.17), (0.185, 0.14), (0.19, 0.16), (0.2, 0.15), (0.21, 0.13),
         (0.22, 0.12), (0.23, 0.1), (0.24, 0.09), (0.25, 0.07), (0.26, 0.05), (0.27, 0.035), (0.28, 0.02),
         (0.29, 0.008), (0.3, 0.0)]
i_20m = [(0.045, 0.593), (0.05, 0.52), (0.055, 0.55), (0.06, 0.5), (0.065, 0.57), (0.068, 0.5), (0.072, 0.45),
         (0.076, 0.43), (0.08, 0.45), (0.085, 0.5), (0.088, 0.4), (0.092, 0.37), (0.1, 0.36), (0.105, 0.37),
         (0.11, 0.36), (0.115, 0.33), (0.12, 0.3), (0.125, 0.28), (0.13, 0.27), (0.14, 0.26), (0.15, 0.25),
         (0.16, 0.22), (0.17, 0.2), (0.175, 0.18), (0.18, 0.17), (0.185, 0.15), (0.19, 0.16), (0.195, 0.16),
         (0.2, 0.15), (0.21, 0.13), (0.22, 0.12), (0.23, 0.1), (0.24, 0.09), (0.25, 0.07), (0.26, 0.05),
         (0.27, 0.04), (0.28, 0.025), (0.29, 0.01), (0.3, 0.0)]
i_80m = [(0.008, 0.61), (0.011, 0.659), (0.015, 0.69), (0.018, 0.72), (0.021, 0.58), (0.025, 0.66), (0.03, 0.73),
         (0.033, 0.6), (0.037, 0.56), (0.041, 0.52), (0.045, 0.46), (0.05, 0.53), (0.055, 0.5), (0.06, 0.5),
         (0.065, 0.49), (0.07, 0.48), (0.075, 0.47), (0.08, 0.45), (0.085, 0.36), (0.09, 0.42), (0.095, 0.35),
         (0.1, 0.34), (0.105, 0.33), (0.11, 0.34), (0.115, 0.38), (0.12, 0.35), (0.125, 0.3), (0.13, 0.27),
         (0.135, 0.27), (0.14, 0.25), (0.145, 0.27), (0.15, 0.26), (0.155, 0.24), (0.16, 0.23), (0.17, 0.2),
         (0.18, 0.18), (0.19, 0.16), (0.2, 0.16), (0.21, 0.14), (0.22, 0.12), (0.23, 0.11), (0.24, 0.09),
         (0.25, 0.075), (0.255, 0.08), (0.26, 0.05), (0.27, 0.04), (0.28, 0.025), (0.29, 0.01), (0.3, 0.0)]
i_1000m = [(0.0, 0.4), (0.003, 0.5), (0.006, 0.6), (0.01, 0.65), (0.015, 0.68), (0.02, 0.7), (0.025, 0.68),
           (0.028, 0.72), (0.03, 0.78), (0.033, 0.65), (0.036, 0.6), (0.04, 0.55), (0.043, 0.48), (0.046, 0.55),
           (0.05, 0.5), (0.055, 0.52), (0.06, 0.5), (0.065, 0.52), (0.07, 0.48), (0.073, 0.52), (0.077, 0.45),
           (0.082, 0.42), (0.087, 0.38), (0.092, 0.37), (0.1, 0.35), (0.105, 0.34), (0.11, 0.33), (0.115, 0.38),
           (0.12, 0.32), (0.13, 0.3), (0.14, 0.28), (0.15, 0.26), (0.16, 0.23), (0.17, 0.2), (0.175, 0.17),
           (0.18, 0.19), (0.19, 0.17), (0.2, 0.16), (0.21, 0.14), (0.22, 0.12), (0.23, 0.11), (0.24, 0.09),
           (0.25, 0.07), (0.26, 0.05), (0.27, 0.04), (0.28, 0.025), (0.29, 0.01), (0.3, 0.0)]

# markers: (series index, kind, tan(alpha), u_max); index 0 = 2 m ... 5 = 1000 m
d_marks = [(4, "s", 0.014, 1.03), (4, "*", 0.022, 1.16), (4, "^", 0.034, 1.24), (3, "s", 0.064, 1.25),
           (3, "*", 0.095, 1.545), (2, "s", 0.107, 1.06), (2, "*", 0.146, 1.165), (3, "^", 0.157, 0.764),
           (1, "s", 0.172, 0.686), (0, "s", 0.203, 0.404), (1, "*", 0.21, 0.265), (0, "*", 0.236, 0.38),
           (2, "^", 0.2665, 0.083)]
e_marks = [(4, "s", 0.006, 0.381), (4, "*", 0.007, 0.409), (4, "^", 0.016, 0.469), (3, "s", 0.032, 0.637),
           (3, "*", 0.047, 0.70), (2, "s", 0.055, 0.548), (2, "*", 0.077, 0.64), (3, "^", 0.0795, 0.494),
           (1, "s", 0.109, 0.436), (2, "^", 0.136, 0.436), (0, "s", 0.155, 0.312), (1, "*", 0.159, 0.332),
           (0, "*", 0.2, 0.279), (1, "^", 0.2675, 0.166), (0, "^", 0.384, 0.0)]
f_marks = [(4, "s", 0.0084, 0.639), (4, "*", 0.0092, 0.693), (4, "^", 0.019, 0.688), (3, "s", 0.032, 0.639),
           (3, "*", 0.044, 0.566), (2, "s", 0.048, 0.486), (2, "*", 0.069, 0.469), (3, "^", 0.079, 0.404),
           (1, "s", 0.098, 0.391), (2, "^", 0.121, 0.379), (1, "*", 0.134, 0.311), (0, "s", 0.141, 0.284),
           (0, "*", 0.18, 0.277), (1, "^", 0.244, 0.075)]
g_marks = [(4, "s", 0.012, 1.0), (4, "*", 0.023, 1.10), (4, "^", 0.029, 1.31), (3, "s", 0.082, 1.617),
           (3, "*", 0.0965, 1.343), (2, "s", 0.11, 1.10), (2, "*", 0.151, 1.372), (1, "s", 0.182, 0.73),
           (1, "*", 0.214, 0.767), (3, "^", 0.2, 0.493), (0, "s", 0.206, 0.41), (0, "*", 0.2475, 0.371),
           (2, "^", 0.275, 0.066)]
h_marks = [(4, "s", 0.007, 0.53), (4, "*", 0.013, 0.627), (4, "^", 0.018, 0.674), (3, "s", 0.043, 0.719),
           (3, "*", 0.059, 0.828), (2, "s", 0.08, 0.745), (2, "*", 0.1, 0.903), (3, "^", 0.102, 0.579),
           (1, "s", 0.118, 0.461), (1, "*", 0.161, 0.468), (0, "s", 0.173, 0.333), (2, "^", 0.192, 0.27),
           (0, "*", 0.221, 0.38), (1, "^", 0.29, 0.162), (0, "^", 0.4286, 0.004)]
i_marks = [(4, "s", 0.008, 0.61), (4, "*", 0.011, 0.659), (4, "^", 0.0185, 0.696), (3, "s", 0.033, 0.675),
           (3, "*", 0.045, 0.593), (2, "s", 0.051, 0.523), (2, "*", 0.07, 0.586), (3, "^", 0.083, 0.396),
           (1, "s", 0.094, 0.38), (1, "*", 0.1255, 0.369), (2, "^", 0.13, 0.281), (0, "s", 0.136, 0.272),
           (0, "*", 0.166, 0.333), (1, "^", 0.2366, 0.097), (0, "^", 0.3366, 0.0)]

TITLES = [
    [r"(a) Rinaldi Receiving Sta 228$^{\circ}$"],
    [r"(b) Cape Mendocino 0$^{\circ}$"],
    [r"(c) El Centro Imp. Co. 90$^{\circ}$"],
    ["(d) Normalized to PGA", r"PGA = $\overline{\mathrm{PGA}}$ = 0.44g"],
    ["(e) Normalized to PGA", r"PGA = $\overline{\mathrm{PGA}}$ = 0.52g"],
    ["(f) Normalized to PGA", r"PGA = $\overline{\mathrm{PGA}}$ = 0.37g"],
    ["(g) Normalized to PGV", r"PGV = $\overline{\mathrm{PGV}}$ = 77.78 cm/s"],
    ["(h) Normalized to PGV", r"PGV = $\overline{\mathrm{PGV}}$ = 59.31 cm/s"],
    ["(i) Normalized to PGV", r"PGV = $\overline{\mathrm{PGV}}$ = 40.09 cm/s"],
]
CURVES = [
    (a_2m, a_4m, a_10m, a_20m, a_80m, a_1000m),
    (b_2m, b_4m, b_10m, b_20m, b_80m, b_1000m),
    (c_2m, c_4m, c_10m, c_20m, c_80m, c_1000m),
    (d_2m, d_4m, d_10m, d_20m, d_80m, d_1000m),
    (e_2m, e_4m, e_10m, e_20m, e_80m, e_1000m),
    (f_2m, f_4m, f_10m, f_20m, f_80m, f_1000m),
    (g_2m, g_4m, g_10m, g_20m, g_80m, g_1000m),
    (h_2m, h_4m, h_10m, h_20m, h_80m, h_1000m),
    (i_2m, i_4m, i_10m, i_20m, i_80m, i_1000m),
]
MARKS = [[], [], [], d_marks, e_marks, f_marks, g_marks, h_marks, i_marks]
XLIMS = [1.0, 1.0, 1.0, 0.394, 0.4605, 0.338, 0.419, 0.58, 0.348]
YLIMS = [2.0, 2.0, 2.5, 2.0, 0.7, 0.8, 2.0, 1.2, 0.8]
XSTEPS = [0.2, 0.2, 0.2, 0.1, 0.1, 0.1, 0.1, 0.1, 0.1]
YSTEPS = [0.5, 0.5, 0.5, 0.5, 0.1, 0.2, 0.5, 0.2, 0.2]

W, H = 1081, 1249
COL_LEFT = [78, 424, 769]
ROW_TOP = [70, 443, 821]
AX_W, AX_H = 283, 272
GREY = "#262626"
TXT = "#1a1a1a"
MARKER_SIZE = {"*": 11, "s": 6.5, "^": 6.5}

fig = plt.figure(figsize=(W / 100, H / 100), dpi=100)


def fx(px):
    return px / W


def fy(py):
    return 1 - py / H


fmt = FuncFormatter(lambda v, _: f"{v:g}")

for k in range(9):
    r, c = divmod(k, 3)
    left, top = COL_LEFT[c], ROW_TOP[r]
    ax = fig.add_axes([fx(left), fy(top + AX_H), AX_W / W, AX_H / H])
    for s in reversed(range(6)):
        xs = [p[0] for p in CURVES[k][s]]
        ys = [p[1] for p in CURVES[k][s]]
        ax.plot(xs, ys, color=COLORS[s], lw=1.1)
    for s, m, x, y in MARKS[k]:
        ax.plot(x, y, marker=m, ms=MARKER_SIZE[m], mfc=COLORS[s], mec="k", mew=0.8,
                ls="none", clip_on=False, zorder=5)

    nx = int(XLIMS[k] / XSTEPS[k] + 1e-6)
    ax.set_xticks([round(XSTEPS[k] * j, 3) for j in range(nx + 1)])
    ny = int(round(YLIMS[k] / YSTEPS[k]))
    ax.set_yticks([round(YSTEPS[k] * j, 3) for j in range(ny + 1)])
    ax.set_xlim(0, XLIMS[k])
    ax.set_ylim(0, YLIMS[k])
    ax.xaxis.set_major_formatter(fmt)
    ax.yaxis.set_major_formatter(fmt)
    ax.tick_params(direction="in", top=True, right=True, length=4, width=0.6,
                   labelsize=16, colors=GREY, pad=5)
    ax.grid(True, color="#d6d6d6", lw=0.8, ls=(0, (6, 4)))
    for sp in ax.spines.values():
        sp.set_color(GREY)
        sp.set_linewidth(0.7)
    if k == 0:
        # top label of panel (a) sits a little below the axis edge, clear of the title
        shift = mtransforms.ScaledTranslation(0, -5 / 100, fig.dpi_scale_trans)
        top_lab = ax.get_yticklabels()[-1]
        top_lab.set_transform(top_lab.get_transform() + shift)

    cx = left + AX_W / 2
    if r == 0:
        fig.text(fx(cx - 9), fy(25), HEADERS[c], ha="center", va="baseline", fontsize=16.7, color=TXT)
        fig.text(fx(cx), fy(61), TITLES[k][0], ha="center", va="baseline", fontsize=16.6, color=TXT)
    else:
        base = 409 if r == 1 else 781
        fig.text(fx(cx), fy(base), TITLES[k][0], ha="center", va="baseline", fontsize=16.6, color=TXT)
        fig.text(fx(cx), fy(base + 28), TITLES[k][1], ha="center", va="baseline", fontsize=16.6, color=TXT)
    if c == 0:
        fig.text(fx(26), fy(top + AX_H / 2), r"$u_{max}$ (m)", rotation=90, ha="center", va="center",
                 fontsize=16, color=GREY)
    if r == 2:
        fig.text(fx(cx - 8), fy(1138), r"$\tan(\alpha)$", ha="center", va="center", fontsize=16.5, color=GREY)

line_handles = [Line2D([], [], color=COLORS[s], lw=1.5) for s in range(6)]
leg1 = fig.legend(line_handles, LABELS, loc="center", bbox_to_anchor=(fx(548), fy(1178)), ncol=6,
                  fontsize=15, frameon=True, fancybox=False, edgecolor="#333333", handlelength=1.6,
                  handletextpad=0.6, columnspacing=1.55, borderpad=0.3)
leg1.get_frame().set_linewidth(0.8)

mark_handles = [Line2D([], [], color="k", marker=m, ls="none", ms=sz)
                for m, sz in (("*", 8), ("s", 4), ("^", 4))]
leg2 = fig.legend(mark_handles, ["Overturning", "Intercept with capacity curve", "Design point"],
                  loc="center", bbox_to_anchor=(fx(548), fy(1233)), ncol=3, fontsize=16, frameon=True,
                  fancybox=False, edgecolor="#333333", handlelength=0.8, handletextpad=0.5,
                  columnspacing=1.4, borderpad=0.3)
leg2.get_frame().set_linewidth(0.8)

fig.savefig("out.png", dpi=100)
